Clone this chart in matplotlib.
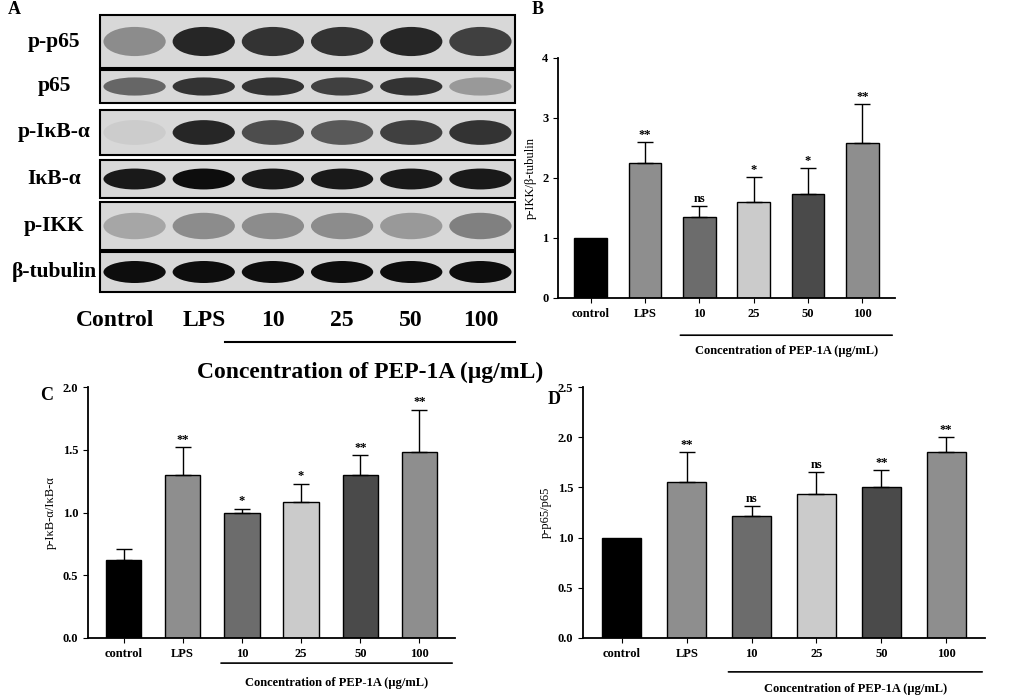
import matplotlib.pyplot as plt
from matplotlib.patches import Rectangle, Ellipse

plt.rcParams["font.family"] = "Liberation Serif"
plt.rcParams["font.weight"] = "bold"

W, H = 1028, 699
groups = ['control', 'LPS', '10', '25', '50', '100']
colors = ['#000000', '#8e8e8e', '#6c6c6c', '#cbcbcb', '#4a4a4a', '#8e8e8e']

ikk_mean = [1.0, 2.25, 1.35, 1.6, 1.73, 2.58]
ikk_err = [0.0, 0.35, 0.18, 0.42, 0.43, 0.65]
ikk_sig = ['', '**', 'ns', '*', '*', '**']

ikb_mean = [0.62, 1.3, 1.0, 1.08, 1.3, 1.48]
ikb_err = [0.09, 0.22, 0.03, 0.15, 0.16, 0.34]
ikb_sig = ['', '**', '*', '*', '**', '**']

p65_mean = [1.0, 1.55, 1.22, 1.43, 1.5, 1.85]
p65_err = [0.0, 0.3, 0.09, 0.22, 0.17, 0.15]
p65_sig = ['', '**', 'ns', 'ns', '**', '**']

blot_rows = ['p-p65', 'p65', 'p-IκB-α', 'IκB-α', 'p-IKK', 'β-tubulin']
blot_lanes = ['Control', 'LPS', '10', '25', '50', '100']
# band darkness per row and lane (0 = none, 1 = black)
blot_dark = [
    [0.45, 0.85, 0.8, 0.8, 0.85, 0.75],
    [0.6, 0.8, 0.8, 0.75, 0.8, 0.4],
    [0.2, 0.85, 0.7, 0.65, 0.75, 0.8],
    [0.9, 0.95, 0.9, 0.9, 0.9, 0.9],
    [0.35, 0.45, 0.45, 0.45, 0.4, 0.5],
    [0.95, 0.95, 0.95, 0.95, 0.95, 0.95],
]
row_px = [(15, 68), (70, 103), (110, 155), (160, 198), (202, 250), (252, 292)]

fig = plt.figure(figsize=(W / 100, H / 100), dpi=100)


def px(l, t, r, b):
    return [l / W, 1 - b / H, (r - l) / W, (b - t) / H]


# Panel A: drawn blot
axa = fig.add_axes([0, 0, 1, 1])
axa.set_xlim(0, W)
axa.set_ylim(H, 0)
axa.axis('off')
bx0, bx1 = 100, 515
lane_w = (bx1 - bx0) / 6
for r, (t, b) in enumerate(row_px):
    axa.add_patch(Rectangle((bx0, t), bx1 - bx0, b - t, facecolor='#d8d8d8',
                            edgecolor='black', lw=1.5))
    for i, d in enumerate(blot_dark[r]):
        g = 1 - d
        axa.add_patch(Ellipse((bx0 + lane_w * (i + 0.5), (t + b) / 2), lane_w * 0.9,
                              (b - t) * 0.55, facecolor=(g, g, g), edgecolor='none'))
    axa.text(54, (t + b) / 2, blot_rows[r], ha='center', va='center', fontsize=15.5)
for i, lab in enumerate(blot_lanes):
    axa.text(bx0 + lane_w * (i + 0.5) - (20 if i == 0 else 0), 320, lab,
             ha='center', va='center', fontsize=17)
axa.plot([225, 515], [342, 342], color='black', lw=1.5)
axa.text(370, 372, 'Concentration of PEP-1A (μg/mL)', ha='center', va='center', fontsize=17)
for lab, x, y in [('A', 8, 10), ('B', 532, 10), ('C', 40, 395), ('D', 548, 400)]:
    axa.text(x, y, lab, fontsize=13, ha='left', va='center')


def bar_panel(rect, means, errs, sigs, ymax, step, ylabel, line_y, text_y):
    ax = fig.add_axes(px(*rect))
    xs = range(len(groups))
    ax.bar(xs, means, width=0.6, color=colors, edgecolor='black', lw=1)
    for x, m, e in zip(xs, means, errs):
        if e > 0:
            ax.errorbar(x, m, yerr=[[0], [e]], color='black', capsize=6, lw=1)
    for x, m, e, s in zip(xs, means, errs, sigs):
        if s:
            ax.text(x, m + e + ymax * 0.005, s, ha='center', va='bottom', fontsize=9)
    ax.set_xlim(-0.6, 5.6)
    ax.set_ylim(0, ymax)
    ticks = [i * step for i in range(int(round(ymax / step)) + 1)]
    ax.set_yticks(ticks)
    ax.set_yticklabels([('%g' % t) if step >= 1 else '%.1f' % t for t in ticks], fontsize=9)
    ax.set_xticks(list(xs))
    ax.set_xticklabels(groups, fontsize=9)
    ax.set_ylabel(ylabel, fontsize=9)
    for sp in ('top', 'right'):
        ax.spines[sp].set_visible(False)
    ax.spines['left'].set_linewidth(1.3)
    ax.spines['bottom'].set_linewidth(1.3)
    # bracket under 10..100
    ax.annotate('', xy=(1.6, line_y), xytext=(5.6, line_y), xycoords=('data', 'axes fraction'),
                arrowprops=dict(arrowstyle='-', lw=1.2, color='black'), annotation_clip=False)
    ax.text(3.6, text_y, 'Concentration of PEP-1A (μg/mL)', transform=ax.get_xaxis_transform(),
            ha='center', va='center', fontsize=9)
    return ax


bar_panel((558, 58, 895, 298), ikk_mean, ikk_err, ikk_sig, 4, 1, 'p-IKK/β-tubulin', -0.155, -0.22)
bar_panel((88, 387, 455, 638), ikb_mean, ikb_err, ikb_sig, 2.0, 0.5, 'p-IκB-α/IκB-α', -0.1, -0.18)
bar_panel((583, 387, 985, 638), p65_mean, p65_err, p65_sig, 2.5, 0.5, 'p-p65/p65', -0.135, -0.205)

fig.savefig('out.png', dpi=100)
